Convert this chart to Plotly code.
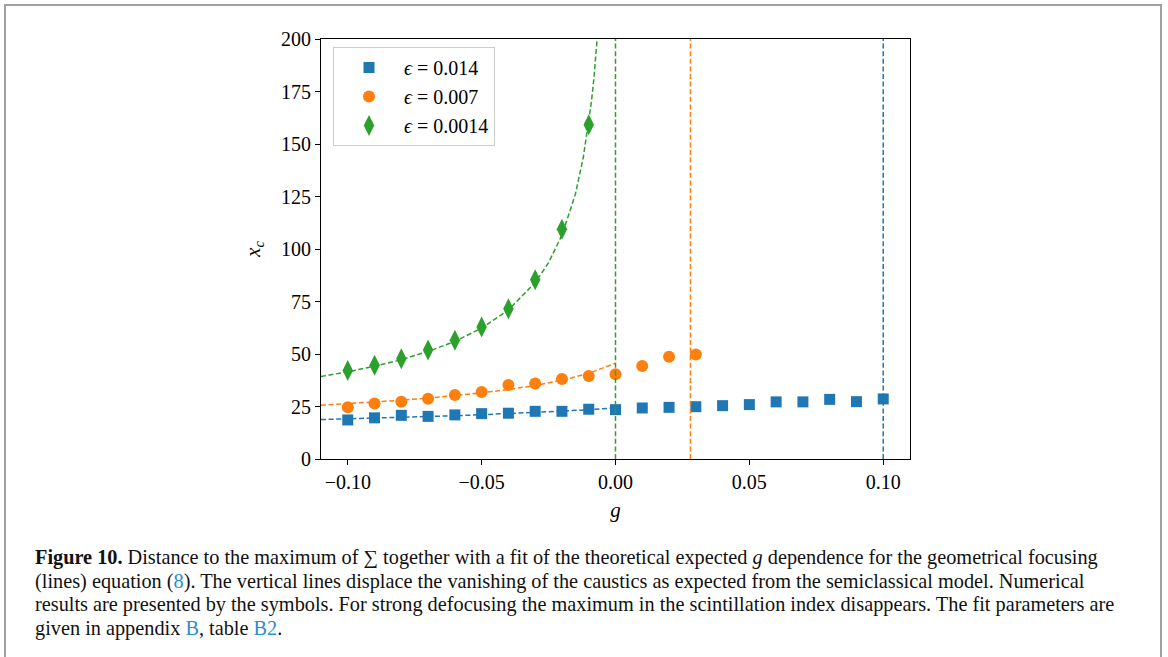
import plotly.graph_objects as go

# ---------------- data ----------------
g_pts = [-0.10, -0.09, -0.08, -0.07, -0.06, -0.05, -0.04, -0.03, -0.02, -0.01,
         0.00, 0.01, 0.02, 0.03, 0.04, 0.05, 0.06, 0.07, 0.08, 0.09, 0.10]
xc_014 = [18.6, 19.6, 20.8, 20.3, 21.0, 21.6, 21.8, 22.7, 22.7, 23.7,
          23.5, 24.3, 24.6, 24.9, 25.4, 25.9, 27.2, 27.2, 28.4, 27.3, 28.6]

g_007 = [-0.10, -0.09, -0.08, -0.07, -0.06, -0.05, -0.04, -0.03, -0.02, -0.01,
         0.00, 0.01, 0.02, 0.03]
xc_007 = [24.6, 26.4, 27.3, 28.7, 30.5, 31.9, 35.2, 36.0, 38.1, 39.5,
          40.4, 44.3, 48.7, 49.8]

g_0014 = [-0.10, -0.09, -0.08, -0.07, -0.06, -0.05, -0.04, -0.03, -0.02, -0.01]
xc_0014 = [42.2, 44.7, 47.7, 51.9, 56.6, 62.8, 71.6, 85.4, 109.4, 159.2]

# fitted curves
fit_g_014 = [-0.11, -0.10, -0.09, -0.08, -0.07, -0.06, -0.05, -0.04, -0.03, -0.02, -0.01, 0.00]
fit_x_014 = [18.8, 19.1, 19.5, 19.8, 20.2, 20.6, 21.1, 21.6, 22.2, 22.8, 23.5, 24.3]

fit_g_007 = [-0.11, -0.10, -0.09, -0.08, -0.07, -0.06, -0.05, -0.04, -0.03, -0.02, -0.01, 0.00]
fit_x_007 = [25.6, 26.3, 27.1, 28.0, 29.0, 30.1, 31.5, 33.1, 35.0, 37.5, 40.8, 45.6]

fit_g_0014 = [-0.11, -0.10, -0.09, -0.08, -0.07, -0.06, -0.05, -0.04, -0.03, -0.025,
              -0.02, -0.015, -0.012, -0.01, -0.009, -0.008, -0.007, -0.0065]
fit_x_0014 = [39.3, 41.5, 44.2, 47.3, 51.2, 56.0, 62.3, 71.0, 84.0, 93.5,
              106.6, 126.0, 143.8, 160.0, 170.0, 182.0, 197.0, 206.0]

# vertical lines: vanishing of caustics
vline_g = [0.10, 0.028, 0.0]

labels = ["<i>ϵ</i> = 0.014", "<i>ϵ</i> = 0.007", "<i>ϵ</i> = 0.0014"]
colors = ["#1f77b4", "#ff7f0e", "#2ca02c"]

x_ticks = [-0.10, -0.05, 0.00, 0.05, 0.10]
x_ticklabels = ["−0.10", "−0.05", "0.00", "0.05", "0.10"]
y_ticks = [0, 25, 50, 75, 100, 125, 150, 175, 200]

# ---------------- figure ----------------
W, H = 1168, 657
ML, MT = 321, 39
PW, PH = 589, 420
MR = W - ML - PW
MB = H - MT - PH

def px(x):
    return (x - ML) / PW

def py(y):
    return (MT + PH - y) / PH

fig = go.Figure()

fig.add_trace(go.Scatter(x=g_pts, y=xc_014, mode="markers", name=labels[0],
                         marker=dict(symbol="square", size=11, color=colors[0])))
fig.add_trace(go.Scatter(x=g_007, y=xc_007, mode="markers", name=labels[1],
                         marker=dict(symbol="circle", size=12, color=colors[1])))
fig.add_trace(go.Scatter(x=g_0014, y=xc_0014, mode="markers", name=labels[2],
                         marker=dict(symbol="diamond-tall", size=15, color=colors[2])))

for gx, yx, c in [(fit_g_014, fit_x_014, colors[0]),
                  (fit_g_007, fit_x_007, colors[1]),
                  (fit_g_0014, fit_x_0014, colors[2])]:
    fig.add_trace(go.Scatter(x=gx, y=yx, mode="lines", showlegend=False,
                             line=dict(color=c, width=1.5, dash="5px,2.6px")))

for gv, c in zip(vline_g, colors):
    fig.add_trace(go.Scatter(x=[gv, gv], y=[0, 200], mode="lines", showlegend=False,
                             line=dict(color=c, width=1.5, dash="5px,2.6px")))

tickfont = dict(family="Liberation Serif", size=20, color="black")

fig.update_xaxes(range=[-0.11, 0.11], tickvals=x_ticks, ticktext=x_ticklabels,
                 ticks="outside", ticklen=5, tickwidth=1, tickcolor="black",
                 showline=True, linecolor="black", linewidth=1.2, mirror=True,
                 showgrid=False, zeroline=False, tickfont=tickfont,
                 title=dict(text="<i>g</i>", font=dict(family="Liberation Serif", size=21, color="black"),
                            standoff=10))
fig.update_yaxes(range=[0, 200], tickvals=y_ticks,
                 ticks="outside", ticklen=5, tickwidth=1, tickcolor="black",
                 showline=True, linecolor="black", linewidth=1.2, mirror=True,
                 showgrid=False, zeroline=False, tickfont=tickfont,
                 title=dict(text="<i>x<sub>c</sub></i>", font=dict(family="Liberation Serif", size=21, color="black"),
                            standoff=14))

# caption
link = "#2a8fca"
cap_lines = [
    "<b>Figure 10.</b> Distance to the maximum of ∑ together with a fit of the theoretical expected <i>g</i> dependence for the geometrical focusing",
    "(lines) equation (<span style='color:%s'>8</span>). The vertical lines displace the vanishing of the caustics as expected from the semiclassical model. Numerical" % link,
    "results are presented by the symbols. For strong defocusing the maximum in the scintillation index disappears. The fit parameters are",
    "given in appendix <span style='color:%s'>B</span>, table <span style='color:%s'>B2</span>." % (link, link),
]
cap_y = [557, 581, 604, 628]
for t, yy in zip(cap_lines, cap_y):
    fig.add_annotation(text=t, xref="paper", yref="paper", x=px(33), y=py(yy),
                       xanchor="left", yanchor="middle", showarrow=False, align="left",
                       font=dict(family="Liberation Serif", size=20.3, color="#111111"))

# outer frame
fig.add_shape(type="rect", xref="paper", yref="paper",
              x0=px(5), x1=px(1161), y0=py(670), y1=py(5),
              line=dict(color="#a0a0a0", width=2), fillcolor="rgba(0,0,0,0)", layer="below")

fig.update_layout(
    width=W, height=H,
    margin=dict(l=ML, r=MR, t=MT, b=MB),
    paper_bgcolor="white", plot_bgcolor="white",
    showlegend=True,
    legend=dict(x=px(333), y=py(47), xanchor="left", yanchor="top",
                bgcolor="rgba(255,255,255,0.8)", bordercolor="#cccccc", borderwidth=1,
                font=dict(family="Liberation Serif", size=20, color="black"),
                itemwidth=60, tracegroupgap=4),
)

fig.write_html("out.html", config={"displayModeBar": False},
               post_script="document.body.style.margin='0';document.body.style.overflow='hidden';")
